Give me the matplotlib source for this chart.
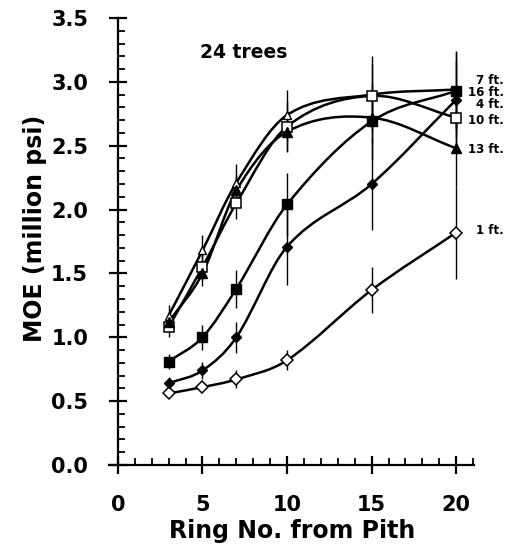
import numpy as np
import matplotlib
matplotlib.use("Agg")
import matplotlib.pyplot as plt
from matplotlib.path import Path
from matplotlib.patches import PathPatch
from matplotlib.ticker import MultipleLocator

plt.rcParams['font.family'] = ['DejaVu Sans']
plt.rcParams['font.weight'] = 'bold'

rings = [3, 5, 7, 10, 15, 20]

moe_1ft = [0.56, 0.61, 0.67, 0.82, 1.37, 1.82]
err_1ft = [0.03, 0.04, 0.07, 0.08, 0.18, 0.36]
moe_4ft = [0.64, 0.74, 1.00, 1.71, 2.20, 2.86]
err_4ft = [0.05, 0.07, 0.12, 0.30, 0.36, 0.30]
moe_7ft = [1.17, 1.68, 2.21, 2.74, 2.90, 2.94]
err_7ft = [0.08, 0.12, 0.15, 0.20, 0.30, 0.30]
moe_10ft = [1.08, 1.55, 2.05, 2.65, 2.89, 2.72]
err_10ft = [0.08, 0.10, 0.12, 0.20, 0.25, 0.25]
moe_13ft = [1.12, 1.50, 2.15, 2.61, 2.72, 2.48]
err_13ft = [0.06, 0.10, 0.12, 0.15, 0.20, 0.30]
moe_16ft = [0.81, 1.00, 1.38, 2.04, 2.69, 2.93]
err_16ft = [0.06, 0.10, 0.15, 0.25, 0.30, 0.30]

labels = ["1 ft.", "4 ft.", "7 ft.", "10 ft.", "13 ft.", "16 ft."]
label_y = [1.84, 2.82, 3.01, 2.70, 2.47, 2.915]

series = [
    (moe_1ft, err_1ft, dict(marker='D', ms=6, mfc='white', mec='black', mew=1.1)),
    (moe_4ft, err_4ft, dict(marker='D', ms=5, mfc='black', mec='black')),
    (moe_7ft, err_7ft, dict(marker='^', ms=6, mfc='white', mec='black', mew=1.0)),
    (moe_10ft, err_10ft, dict(marker='s', ms=7, mfc='white', mec='black', mew=1.1)),
    (moe_13ft, err_13ft, dict(marker='^', ms=7, mfc='black', mec='black')),
    (moe_16ft, err_16ft, dict(marker='s', ms=7, mfc='black', mec='black')),
]


def smooth_path(x, y):
    x = np.asarray(x, float)
    y = np.asarray(y, float)
    n = len(x)
    m = np.zeros(n)
    for i in range(n):
        if i == 0:
            m[i] = (y[1] - y[0]) / (x[1] - x[0])
        elif i == n - 1:
            m[i] = (y[-1] - y[-2]) / (x[-1] - x[-2])
        else:
            m[i] = (y[i + 1] - y[i - 1]) / (x[i + 1] - x[i - 1])
    verts = [(x[0], y[0])]
    codes = [Path.MOVETO]
    for i in range(n - 1):
        dx = x[i + 1] - x[i]
        verts += [(x[i] + dx / 3, y[i] + m[i] * dx / 3),
                  (x[i + 1] - dx / 3, y[i + 1] - m[i + 1] * dx / 3),
                  (x[i + 1], y[i + 1])]
        codes += [Path.CURVE4] * 3
    return Path(verts, codes)


fig = plt.figure(figsize=(5.14, 5.52), dpi=100)
ax = fig.add_axes([0.213, 0.1576, 0.709, 0.8098])

for vals, errs, style in series:
    ax.errorbar(rings, vals, yerr=errs, fmt='none', ecolor='black', elinewidth=1.0, capsize=0, zorder=2)
    ax.add_patch(PathPatch(smooth_path(rings, vals), fill=False, lw=1.8, ec='black', zorder=3))
    ax.plot(rings, vals, linestyle='none', zorder=4, **style)

for lab, yy in zip(labels, label_y):
    ax.text(22.8, yy, lab, ha='right', va='center', fontsize=8.5, fontweight='bold', clip_on=False)

ax.text(4.85, 3.23, "24 trees", ha='left', va='center', fontsize=13.5, fontweight='bold')

ax.set_xlim(-0.5, 21.05)
ax.set_ylim(0, 3.5)
ax.spines['left'].set_position(('data', 0))
ax.spines['top'].set_visible(False)
ax.spines['right'].set_visible(False)
for s in ('left', 'bottom'):
    ax.spines[s].set_linewidth(1.6)

ax.xaxis.set_minor_locator(MultipleLocator(1))
ax.yaxis.set_minor_locator(MultipleLocator(0.1))
ax.set_xticks([0, 5, 10, 15, 20])
ax.set_yticks(np.arange(0, 3.51, 0.5))
ax.set_yticklabels([f"{v:.1f}" for v in np.arange(0, 3.51, 0.5)])

ax.tick_params(which='major', direction='inout', length=13, width=1.6, labelsize=15, pad=15)
ax.tick_params(which='minor', direction='in', length=5, width=1.3)
for lab in ax.get_xticklabels() + ax.get_yticklabels():
    lab.set_fontweight('bold')

ax.set_xlabel("Ring No. from Pith", fontsize=17, fontweight='bold', labelpad=3)
ax.set_ylabel("MOE (million psi)", fontsize=17, fontweight='bold', labelpad=3)
ax.yaxis.label.set_y(0.53)

fig.savefig("out.png", dpi=100)
